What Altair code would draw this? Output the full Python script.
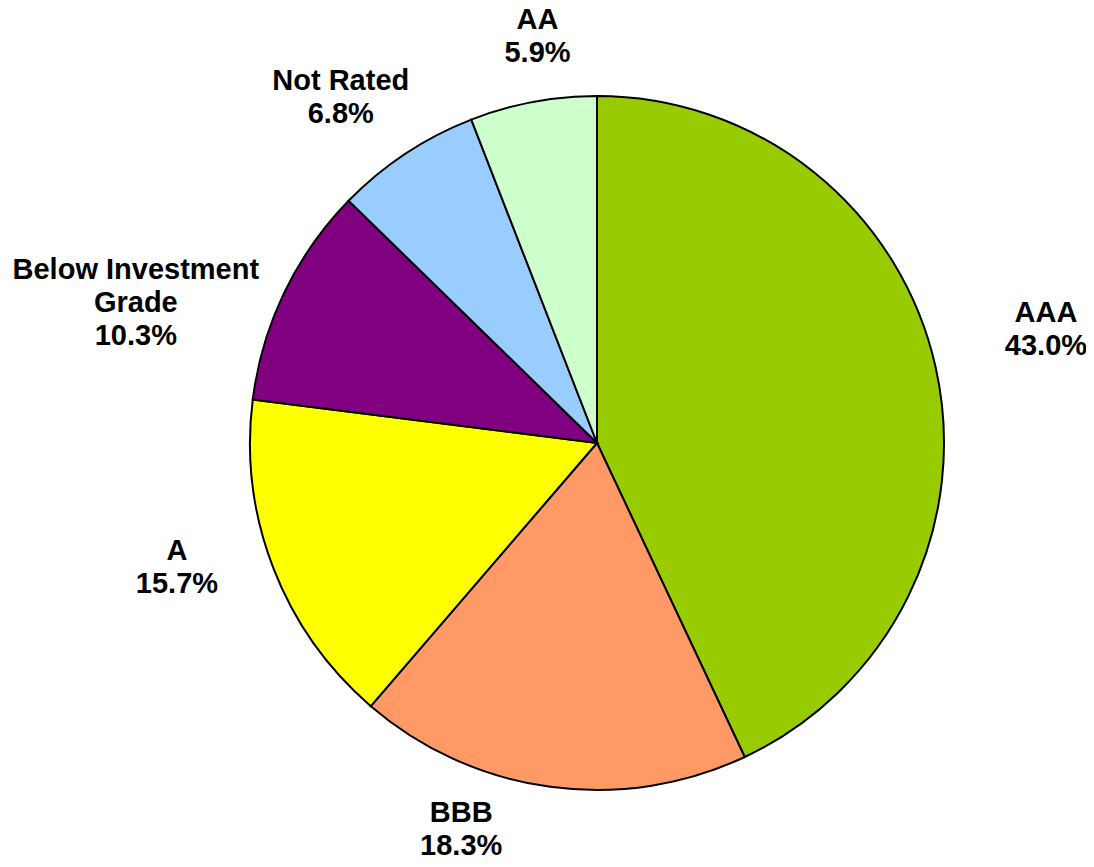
import altair as alt
import pandas as pd

categories = ["AAA", "BBB", "A", "Below Investment Grade", "Not Rated", "AA"]
label_names = ["AAA", "BBB", "A", "Below Investment\nGrade", "Not Rated", "AA"]
values = [43.0, 18.3, 15.7, 10.3, 6.8, 5.9]
colors = ["#99CC00", "#FF9966", "#FFFF00", "#800080", "#99CCFF", "#CCFFCC"]

# label placement style: angular nudge (deg) from slice middle, and distance from centre (px)
label_nudge_deg = [-1.55, 11.6, 4.6, -7.0, -3.1, 2.3]
label_radius = [463, 410, 438, 487, 430, 411]

df = pd.DataFrame({
    "cat": categories,
    "name": label_names,
    "value": values,
    "order": list(range(len(categories))),
    "nudge": label_nudge_deg,
    "r": label_radius,
})

CX, CY = 589, 435
R = 347

base = alt.Chart(df)

arcs = base.mark_arc(radius=R, stroke="black", strokeWidth=2).encode(
    theta=alt.Theta("value:Q", stack=True),
    order=alt.Order("order:Q"),
    color=alt.Color("cat:N", scale=alt.Scale(domain=categories, range=colors), legend=None),
    x=alt.value(CX),
    y=alt.value(CY),
)

labels = base.transform_window(
    cum="sum(value)", sort=[alt.SortField("order")], frame=[None, 0]
).transform_joinaggregate(
    total="sum(value)"
).transform_calculate(
    ang="(datum.cum - datum.value/2)/datum.total*2*PI + datum.nudge*PI/180",
    label="datum.name + '\\n' + format(datum.value, '.1f') + '%'",
).mark_text(
    font="Liberation Sans", fontWeight="bold", fontSize=29, lineHeight=33,
    lineBreak="\n", align="center", baseline="middle", color="black", dy=-16.5,
).encode(
    theta=alt.Theta("ang:Q", scale=None),
    radius=alt.Radius("r:Q", scale=None),
    text="label:N",
    x=alt.value(CX),
    y=alt.value(CY),
)

chart = alt.layer(arcs, labels).properties(
    width=1078, height=851, autosize=alt.AutoSizeParams(type="none"), padding=0,
).configure_view(stroke=None)

chart.save("out.html", embed_options={"renderer": "svg", "actions": False})
